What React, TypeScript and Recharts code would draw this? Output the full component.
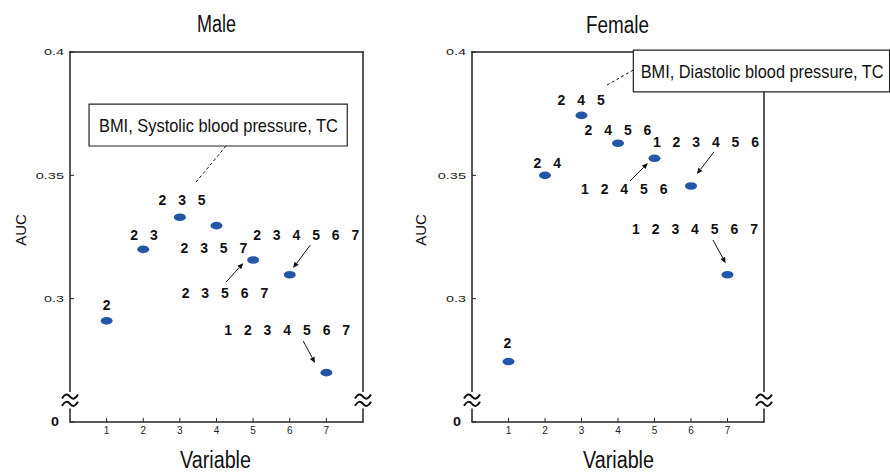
import React from 'react';
import { ScatterChart, Scatter, XAxis, YAxis, ReferenceLine, ReferenceDot, ReferenceArea } from 'recharts';

// ---------- data ----------
const variables = [1, 2, 3, 4, 5, 6, 7];
const maleAUC = [0.291, 0.32, 0.333, 0.3296, 0.3157, 0.3097, 0.27];
const femaleAUC = [0.2745, 0.35, 0.3743, 0.363, 0.3569, 0.3457, 0.3097];

const yTickValues = [0.25, 0.3, 0.35, 0.4];
const yTickLabels = ['0', '0.3', '0.35', '0.4'];
const xTickLabels = ['1', '2', '3', '4', '5', '6', '7'];

const maleSets = ['2', '2 3', '2 3 5', '2 3 5 7', '2 3 5 6 7', '2 3 4 5 6 7', '1 2 3 4 5 6 7'];
const femaleSets = ['2', '2 4', '2 4 5', '2 4 5 6', '1 2 4 5 6', '1 2 3 4 5 6', '1 2 3 4 5 6 7'];

// annotation anchors (data units)
const maleLabelX = [1, 2.02, 3.06, 3.93, 4.23, 6.45, 5.93];
const maleLabelY = [0.2974, 0.3258, 0.34, 0.3205, 0.3023, 0.3258, 0.2873];
const femaleLabelX = [0.97, 2.06, 2.99, 4.0, 4.17, 6.41, 6.11];
const femaleLabelY = [0.282, 0.355, 0.3805, 0.3684, 0.3444, 0.3635, 0.3282];

const maleArrows = [
  [4.26, 0.3067, 4.73, 0.3144],
  [6.56, 0.3217, 6.09, 0.3124],
  [6.37, 0.2828, 6.69, 0.2739],
];
const femaleArrows = [
  [4.33, 0.3477, 4.82, 0.355],
  [6.63, 0.3595, 6.16, 0.3505],
  [6.6, 0.3238, 6.95, 0.3144],
];

const maleNote = 'BMI, Systolic blood pressure, TC';
const femaleNote = 'BMI, Diastolic blood pressure, TC';
const maleBox = [0.52, 7.57, 0.3619, 0.3789];
const femaleBox = [4.42, 11.44, 0.3838, 0.4008];
const maleNoteAt = [0.79, 0.3704];
const femaleNoteAt = [4.62, 0.3923];
const maleLeader = [4.26, 0.3619, 3.42, 0.3469];
const femaleLeader = [4.42, 0.3927, 3.7, 0.3866];

const breakGap = [0.2552, 0.2625];
const breakCenter = 0.2589;

// ---------- styles ----------
const FONT = '"Liberation Sans", Arial, sans-serif';
const DOT = '#2356a6';
const INK = '#111';

const YTick = (props: any) => {
  const { x, y, payload } = props;
  const i = yTickValues.indexOf(payload.value);
  const label = yTickLabels[i];
  if (label === '0') {
    return (
      <text x={x - 5} y={y} dy={4} textAnchor="end" fontSize={12} fontWeight="bold" fill={INK} fontFamily={FONT}
        textLength={8} lengthAdjust="spacingAndGlyphs">
        {label}
      </text>
    );
  }
  let w = 0;
  for (const ch of label) w += ch === '.' ? 3.6 : 8.2;
  return (
    <text x={x - w} y={y} dy={3.4} textAnchor="start" fontSize={9.5} fill="#222" fontFamily={FONT}
      textLength={w} lengthAdjust="spacingAndGlyphs">
      {label}
    </text>
  );
};

const XTick = (props: any) => {
  const { x, y, payload } = props;
  const i = variables.indexOf(payload.value);
  return (
    <text x={x} y={y} textAnchor="middle" fontSize={10} fill="#222" fontFamily={FONT}>
      {xTickLabels[i]}
    </text>
  );
};

const Arrow = (props: any) => {
  const { x1, y1, x2, y2 } = props;
  const a = Math.atan2(y2 - y1, x2 - x1);
  const L = 6;
  const W = 2.6;
  const bx = x2 - L * Math.cos(a);
  const by = y2 - L * Math.sin(a);
  const p1 = `${bx + W * Math.sin(a)},${by - W * Math.cos(a)}`;
  const p2 = `${bx - W * Math.sin(a)},${by + W * Math.cos(a)}`;
  return (
    <g>
      <line x1={x1} y1={y1} x2={bx} y2={by} stroke={INK} strokeWidth={1} />
      <polygon points={`${x2},${y2} ${p1} ${p2}`} fill={INK} />
    </g>
  );
};

const Dashed = (props: any) => {
  const { x1, y1, x2, y2 } = props;
  return <line x1={x1} y1={y1} x2={x2} y2={y2} stroke={INK} strokeWidth={1} strokeDasharray="3 2.5" />;
};

const AxisSeg = (props: any) => {
  const { x1, y1, x2, y2 } = props;
  return <line x1={x1} y1={y1} x2={x2} y2={y2} stroke="#222" strokeWidth={1.5} strokeLinecap="square" />;
};

const BreakMark = (props: any) => {
  const { cx, cy } = props;
  const wave = (dy: number) =>
    `M ${cx - 8} ${cy + dy + 2} Q ${cx - 4} ${cy + dy - 5} ${cx} ${cy + dy} T ${cx + 8} ${cy + dy - 2}`;
  return (
    <g>
      <path d={wave(-3.5)} fill="none" stroke={INK} strokeWidth={2} />
      <path d={wave(3.8)} fill="none" stroke={INK} strokeWidth={2} />
    </g>
  );
};

const Ellipse = (props: any) => <ellipse cx={props.cx} cy={props.cy} rx={6} ry={3.8} fill={DOT} />;

const makeLabelShape = (text: string) => (p: any) => (
  <text
    x={p.cx + 2}
    y={p.cy}
    dominantBaseline="central"
    textAnchor="middle"
    fontFamily={FONT}
    fontWeight="bold"
    fontSize={14}
    letterSpacing={4}
    fill={INK}
  >
    {text}
  </text>
);

const makeNoteShape = (text: string, len: number) => (p: any) => (
  <text x={p.cx} y={p.cy} dy={7} textAnchor="start" fontFamily={FONT} fontSize={19} fill={INK}
    textLength={len} lengthAdjust="spacingAndGlyphs">
    {text}
  </text>
);

type PanelProps = {
  aucs: number[];
  sets: string[];
  lx: number[];
  ly: number[];
  arrows: number[][];
  note: string;
  noteLen: number;
  box: number[];
  noteAt: number[];
  leader: number[];
  width: number;
  marginLeft: number;
  marginRight: number;
  topEnd: number;
  rightTop: number;
  topTicks: number[];
  rightTicks: number[];
};

function Panel(p: PanelProps) {
  const data = variables.map((v, i) => ({ x: v, y: p.aucs[i] }));
  return (
    <ScatterChart
      width={p.width}
      height={472}
      margin={{ top: 52, right: p.marginRight, bottom: 0, left: p.marginLeft }}
    >
      <XAxis
        xAxisId={0}
        dataKey="x"
        type="number"
        domain={[0, 8]}
        ticks={variables}
        height={50}
        tickSize={-4}
        tickMargin={16}
        tick={<XTick />}
        axisLine={{ stroke: '#222', strokeWidth: 1.5 }}
        tickLine={{ stroke: '#222' }}
        allowDataOverflow
      />
      <XAxis
        xAxisId="t"
        orientation="top"
        type="number"
        domain={[0, 8]}
        ticks={p.topTicks}
        height={0}
        tickSize={-4}
        tick={false}
        axisLine={false}
        tickLine={{ stroke: '#222' }}
        allowDataOverflow
      />
      <YAxis
        yAxisId={0}
        dataKey="y"
        type="number"
        domain={[0.25, 0.4]}
        ticks={yTickValues}
        width={60}
        tickSize={-4}
        tickMargin={10}
        tick={<YTick />}
        axisLine={false}
        tickLine={{ stroke: '#222' }}
        allowDataOverflow
      />
      <YAxis
        yAxisId="r"
        orientation="right"
        type="number"
        domain={[0.25, 0.4]}
        ticks={p.rightTicks}
        width={0}
        tickSize={-4}
        tick={false}
        axisLine={false}
        tickLine={{ stroke: '#222' }}
        allowDataOverflow
      />

      {/* frame segments with axis breaks */}
      <ReferenceLine ifOverflow="visible" segment={[{ x: 0, y: 0.4 }, { x: 0, y: breakGap[1] }]} shape={AxisSeg} />
      <ReferenceLine ifOverflow="visible" segment={[{ x: 0, y: breakGap[0] }, { x: 0, y: 0.25 }]} shape={AxisSeg} />
      <ReferenceLine ifOverflow="visible" segment={[{ x: 8, y: p.rightTop }, { x: 8, y: breakGap[1] }]} shape={AxisSeg} />
      <ReferenceLine ifOverflow="visible" segment={[{ x: 8, y: breakGap[0] }, { x: 8, y: 0.25 }]} shape={AxisSeg} />
      <ReferenceLine ifOverflow="visible" segment={[{ x: 0, y: 0.4 }, { x: p.topEnd, y: 0.4 }]} shape={AxisSeg} />
      <ReferenceDot ifOverflow="visible" x={0} y={breakCenter} shape={BreakMark} />
      <ReferenceDot ifOverflow="visible" x={8} y={breakCenter} shape={BreakMark} />

      {/* callout */}
      <ReferenceArea
        ifOverflow="visible"
        x1={p.box[0]}
        x2={p.box[1]}
        y1={p.box[2]}
        y2={p.box[3]}
        fill="#fff"
        fillOpacity={1}
        stroke="#222"
        strokeWidth={1.2}
      />
      <ReferenceDot ifOverflow="visible" x={p.noteAt[0]} y={p.noteAt[1]} shape={makeNoteShape(p.note, p.noteLen)} />
      <ReferenceLine
        ifOverflow="visible"
        segment={[{ x: p.leader[0], y: p.leader[1] }, { x: p.leader[2], y: p.leader[3] }]}
        shape={Dashed}
      />

      {/* variable-set labels */}
      {p.sets.map((s, i) => (
        <ReferenceDot key={'l' + i} ifOverflow="visible" x={p.lx[i]} y={p.ly[i]} shape={makeLabelShape(s)} />
      ))}
      {p.arrows.map((a, i) => (
        <ReferenceLine
          key={'a' + i}
          ifOverflow="visible"
          segment={[{ x: a[0], y: a[1] }, { x: a[2], y: a[3] }]}
          shape={Arrow}
        />
      ))}

      <Scatter data={data} fill={DOT} shape={Ellipse} isAnimationActive={false} />
    </ScatterChart>
  );
}

export default function App() {
  return (
    <div style={{ position: 'absolute', left: 0, top: 0, width: 890, height: 472, background: '#fff', overflow: 'hidden' }}>
      <div style={{ position: 'absolute', left: 0, top: 0 }}>
        <Panel
          aucs={maleAUC}
          sets={maleSets}
          lx={maleLabelX}
          ly={maleLabelY}
          arrows={maleArrows}
          note={maleNote}
          noteLen={239}
          box={maleBox}
          noteAt={maleNoteAt}
          leader={maleLeader}
          width={400}
          marginLeft={10}
          marginRight={37}
          topEnd={8}
          rightTop={0.4}
          topTicks={variables}
          rightTicks={[0.3, 0.35]}
        />
      </div>
      <div style={{ position: 'absolute', left: 400, top: 0 }}>
        <Panel
          aucs={femaleAUC}
          sets={femaleSets}
          lx={femaleLabelX}
          ly={femaleLabelY}
          arrows={femaleArrows}
          note={femaleNote}
          noteLen={243}
          box={femaleBox}
          noteAt={femaleNoteAt}
          leader={femaleLeader}
          width={490}
          marginLeft={12}
          marginRight={126}
          topEnd={femaleBox[0]}
          rightTop={femaleBox[2]}
          topTicks={[1, 2, 3, 4]}
          rightTicks={[0.3, 0.35]}
        />
      </div>
      <svg
        width={890}
        height={472}
        style={{ position: 'absolute', left: 0, top: 0, pointerEvents: 'none' }}
      >
        <text x={197} y={32} fontFamily={FONT} fontSize={23} fill={INK} textLength={39} lengthAdjust="spacingAndGlyphs">Male</text>
        <text x={586} y={33} fontFamily={FONT} fontSize={23} fill={INK} textLength={63} lengthAdjust="spacingAndGlyphs">Female</text>
        <text x={180} y={468} fontFamily={FONT} fontSize={23} fill={INK} textLength={71} lengthAdjust="spacingAndGlyphs">Variable</text>
        <text x={583} y={468} fontFamily={FONT} fontSize={23} fill={INK} textLength={71} lengthAdjust="spacingAndGlyphs">Variable</text>
        <text x={26} y={230} transform="rotate(-90 26 230)" textAnchor="middle" fontFamily={FONT} fontSize={15} fill={INK}>AUC</text>
        <text x={426} y={230} transform="rotate(-90 426 230)" textAnchor="middle" fontFamily={FONT} fontSize={15} fill={INK}>AUC</text>
      </svg>
    </div>
  );
}
